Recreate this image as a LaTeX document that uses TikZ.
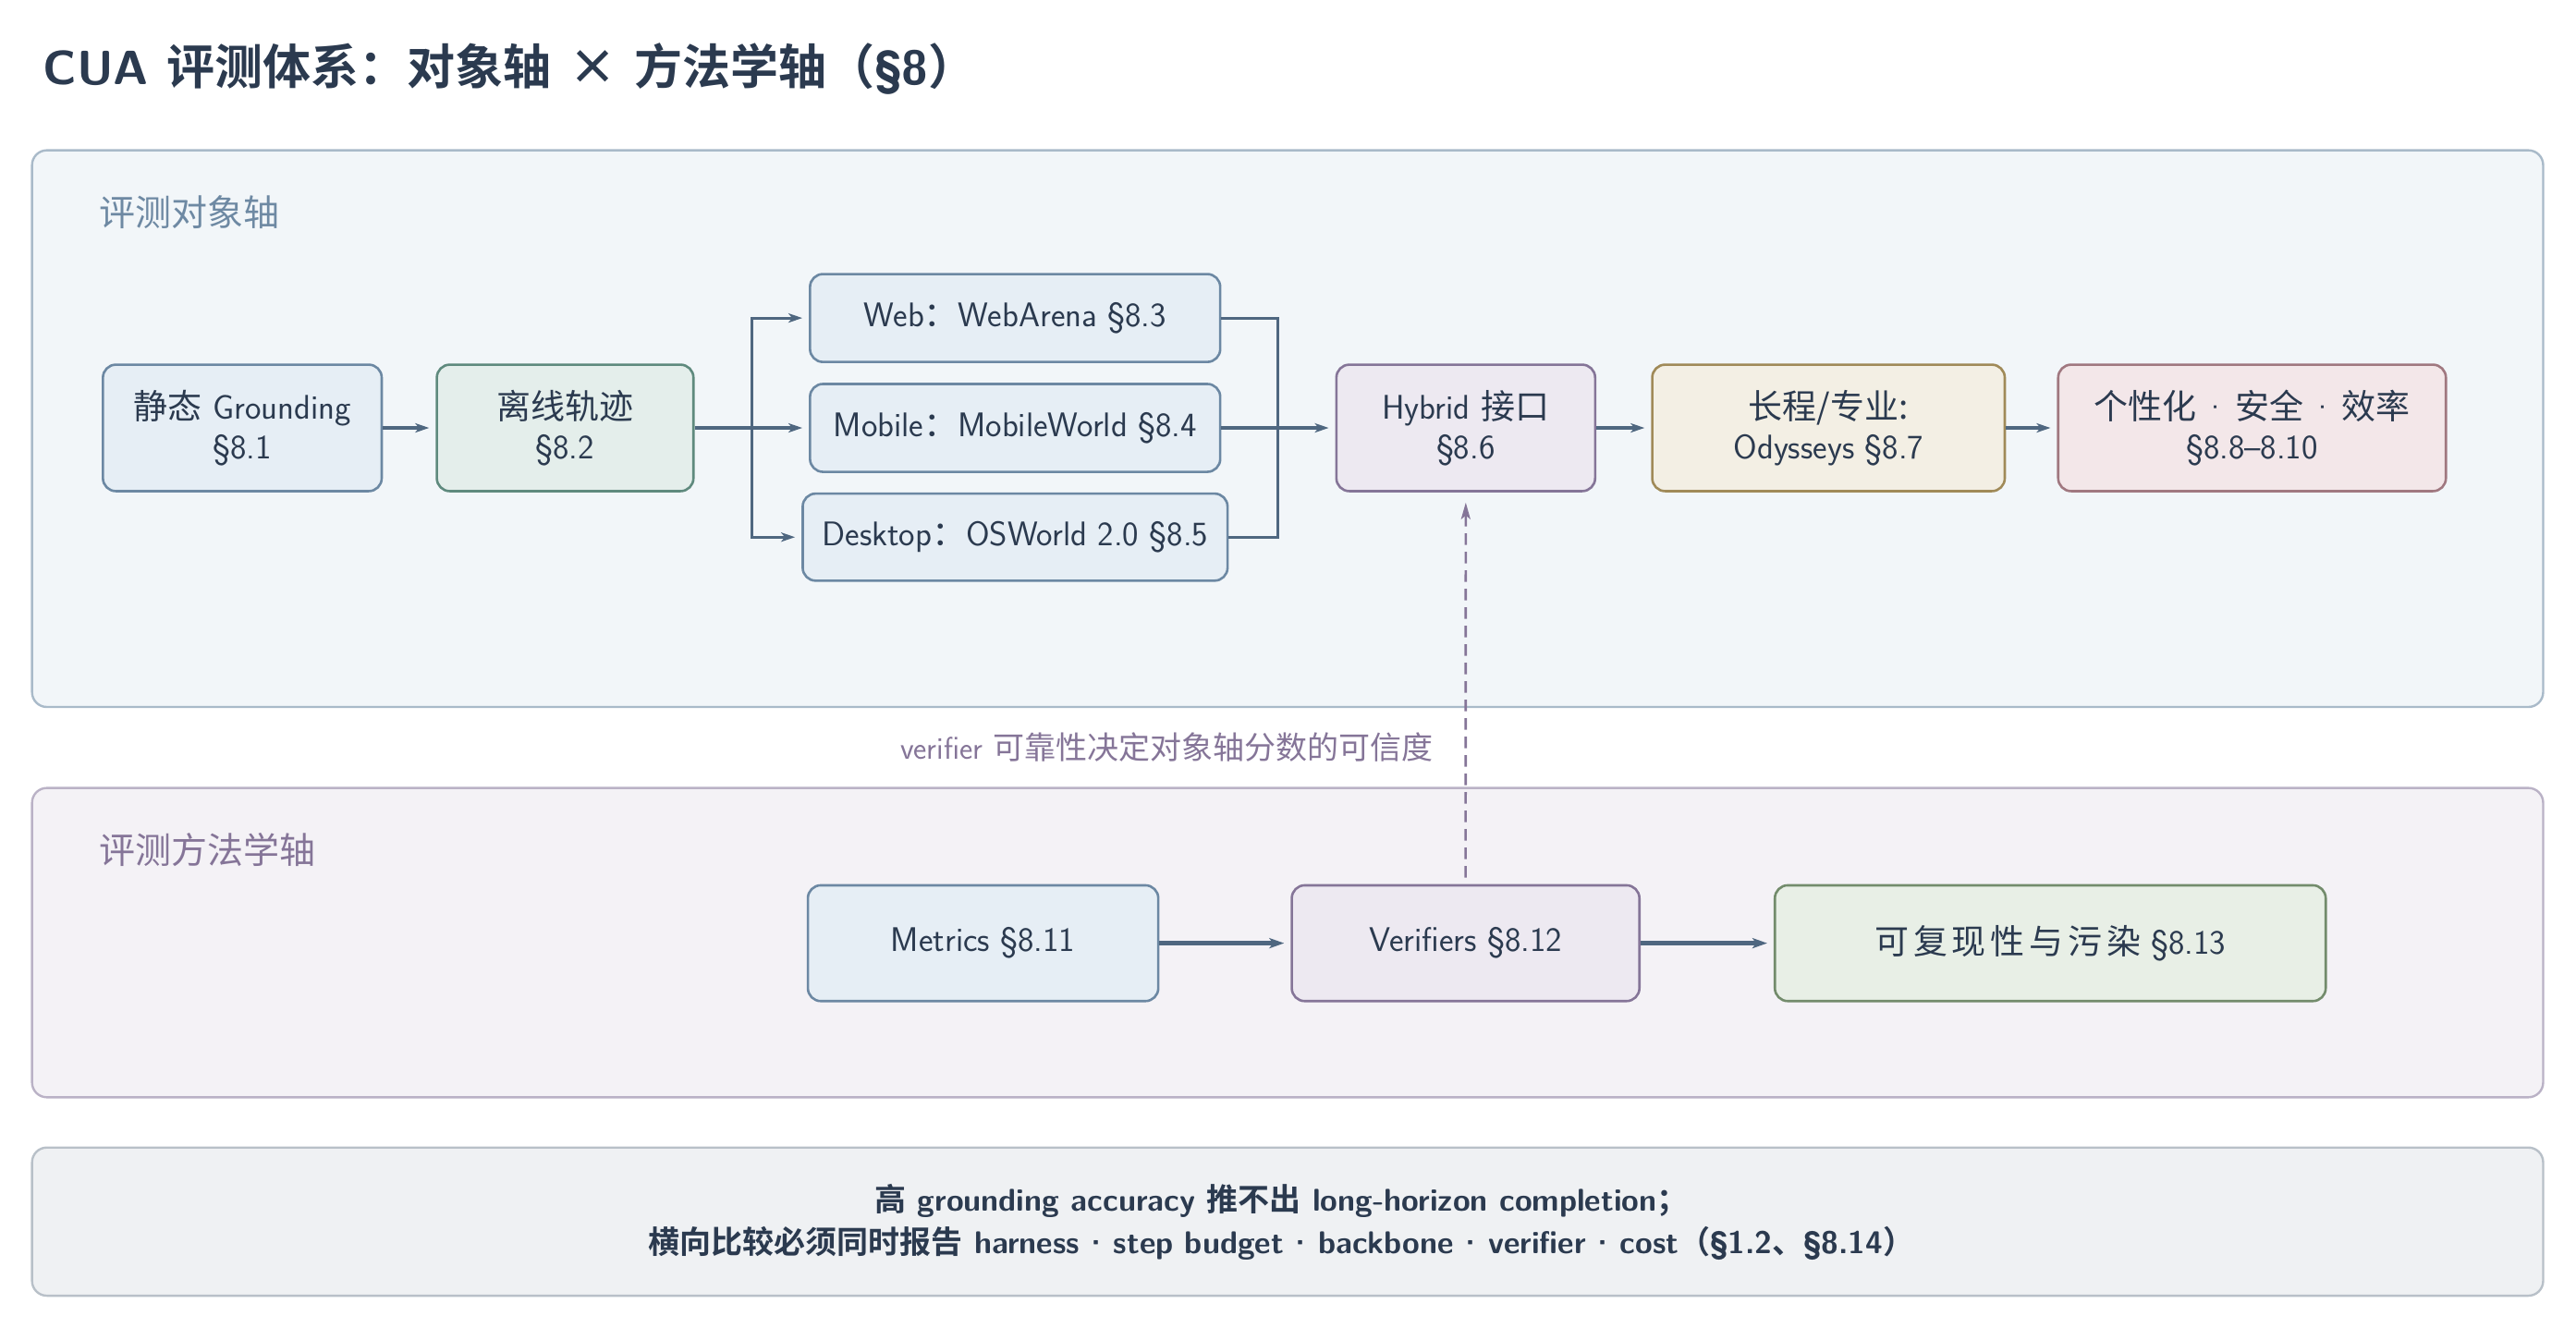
\documentclass[tikz,border=0pt]{standalone}
\usepackage{fontspec}
\usetikzlibrary{arrows.meta,calc}
\renewcommand{\familydefault}{\sfdefault}
\newfontfamily\cjk{Noto Sans CJK SC}[BoldFont={Noto Sans CJK SC Bold}]
\newcommand\zh[1]{{\cjk #1}}
\newcommand\dotsep{\hspace{2pt}·\hspace{2pt}}
\newcommand\boxdot{\hspace{3.5pt}·\hspace{3.5pt}}
\def\pxu{0.8887pt}
\definecolor{ink}{HTML}{2B3A4F}
\definecolor{pAf}{HTML}{F2F6F9}\definecolor{pAd}{HTML}{A9BAC9}\definecolor{pAt}{HTML}{6E89A3}
\definecolor{pBf}{HTML}{F4F2F6}\definecolor{pBd}{HTML}{BAB2C6}\definecolor{pBt}{HTML}{857598}
\definecolor{pCf}{HTML}{EFF1F3}\definecolor{pCd}{HTML}{B8C0C8}
\definecolor{bluef}{HTML}{E6EEF5}\definecolor{blued}{HTML}{6C88A3}
\definecolor{tealf}{HTML}{E4EEEB}\definecolor{teald}{HTML}{5F8A7E}
\definecolor{purf}{HTML}{EDE9F1}\definecolor{purd}{HTML}{857598}
\definecolor{goldf}{HTML}{F3EFE4}\definecolor{goldd}{HTML}{A08A58}
\definecolor{rosef}{HTML}{F3E7E9}\definecolor{rosed}{HTML}{A07880}
\definecolor{grnf}{HTML}{E8EFE6}\definecolor{grnd}{HTML}{738C6C}
\definecolor{arr}{HTML}{4F6780}
\tikzset{
  panel/.style={rounded corners=8pt, line width=1.2pt},
  box/.style={draw, rounded corners=7pt, line width=1.3pt, align=center, inner sep=0pt, text=ink,
    font=\fontsize{18.5}{21.7}\selectfont},
  bluebox/.style={box, draw=blued, fill=bluef},
  tealbox/.style={box, draw=teald, fill=tealf},
  purbox/.style={box, draw=purd, fill=purf},
  goldbox/.style={box, draw=goldd, fill=goldf},
  rosebox/.style={box, draw=rosed, fill=rosef},
  grnbox/.style={box, draw=grnd, fill=grnf},
  conn/.style={draw=arr, line width=1.6pt},
  arrow/.style={conn, -{Stealth[length=7.5pt,width=5pt,inset=2pt]}, shorten >=3.5pt},
  thickarrow/.style={draw=arr, line width=2.4pt, -{Stealth[length=8pt,width=5.5pt,inset=2pt]}, shorten >=3.5pt},
  dasharrow/.style={draw=purd, line width=1.3pt, dash pattern=on 6.3pt off 3.7pt,
    -{Stealth[length=9pt,width=5pt,inset=2pt]}, shorten >=5.5pt, shorten <=3.5pt},
  panellabel/.style={anchor=west, inner sep=0pt, font=\fontsize{19.5}{23}\selectfont}
}
\begin{document}
\begin{tikzpicture}[x=0.8887pt,y=-0.8887pt]
\useasboundingbox (0,0) rectangle (1568,808);
% title
\node[anchor=west, inner sep=0pt, text=ink, font=\fontsize{26}{30}\selectfont\bfseries] (title) at (26,42)
  {CUA \zh{评测体系：对象轴} \zh{×} \zh{方法学轴（}§8\zh{）}};
% panels
\draw[panel, draw=pAd, fill=pAf] (19.5,91.5) rectangle (1548,430.4);
\draw[panel, draw=pBd, fill=pBf] (19.5,479.7) rectangle (1548,668);
\draw[panel, draw=pCd, fill=pCf] (19.5,698.6) rectangle (1548,788.8);
\node[panellabel, text=pAt] (lab1) at (60.4,129.4) {\zh{评测对象轴}};
\node[panellabel, text=pBt] (lab2) at (60.4,517.6) {\zh{评测方法学轴}};
% top row
\node[bluebox, minimum width=169.7*\pxu, minimum height=77*\pxu] (g) at (147.5,260.5) {\zh{静态} Grounding\\§8.1};
\node[tealbox, minimum width=156.2*\pxu, minimum height=77*\pxu] (off) at (344,260.5) {\zh{离线轨迹}\\§8.2};
\node[bluebox, minimum width=249.7*\pxu, minimum height=53.5*\pxu] (web) at (617.9,193.6) {Web\zh{：}WebArena §8.3};
\node[bluebox, minimum width=249.7*\pxu, minimum height=53.5*\pxu] (mob) at (617.9,260.5) {Mobile\zh{：}MobileWorld §8.4};
\node[bluebox, minimum width=258.6*\pxu, minimum height=53*\pxu] (desk) at (617.9,327) {Desktop\zh{：}OSWorld 2.0 §8.5};
\node[purbox, minimum width=157.5*\pxu, minimum height=77*\pxu] (hyb) at (892.2,260.5) {Hybrid \zh{接口}\\§8.6};
\node[goldbox, minimum width=214.6*\pxu, minimum height=77*\pxu] (long) at (1113,260.5) {\zh{长程/专业:}\\Odysseys §8.7};
\node[rosebox, minimum width=236*\pxu, minimum height=77*\pxu] (pers) at (1370.8,260.5) {\zh{个性化}\boxdot\zh{安全}\boxdot\zh{效率}\\§8.8--8.10};
% bottom row
\node[bluebox, minimum width=213.3*\pxu, minimum height=70.5*\pxu] (met) at (598.4,574.2) {Metrics §8.11};
\node[purbox, minimum width=211.6*\pxu, minimum height=70.5*\pxu] (ver) at (892.1,574.2) {Verifiers §8.12};
\node[grnbox, minimum width=335.3*\pxu, minimum height=70.5*\pxu] (rep) at (1248,574.2)
  {\zh{可\hspace{2.4pt}复\hspace{2.4pt}现\hspace{2.4pt}性\hspace{2.4pt}与\hspace{2.4pt}污\hspace{2.4pt}染} §8.13};
% connectors
\coordinate (bl) at (457.7,260.5);
\coordinate (br) at (777.9,260.5);
\draw[arrow] (g.east) -- (off.west);
\draw[arrow] (off.east) -- (mob.west);
\draw[arrow] (bl) |- (web.west);
\draw[arrow] (bl) |- (desk.west);
\draw[conn] (web.east) -| (br);
\draw[conn] (desk.east) -| (br);
\draw[arrow] (mob.east) -- (hyb.west);
\draw[arrow] (hyb.east) -- (long.west);
\draw[arrow] (long.east) -- (pers.west);
\draw[thickarrow] (met.east) -- (ver.west);
\draw[thickarrow] (ver.east) -- (rep.west);
\draw[dasharrow] (ver.north) -- (hyb.south);
\node[anchor=east, inner sep=0pt, text=pBt, font=\fontsize{17}{20}\selectfont] (vlab) at (872.4,455)
  {verifier \zh{可靠性决定对象轴分数的可信度}};
% note
\node[align=center, inner sep=0pt, text=ink, font=\fontsize{17}{23}\selectfont\bfseries] (note) at (780,744)
  {\zh{高} grounding accuracy \zh{推不出} long-horizon completion\zh{；}\\
   \zh{横向比较必须同时报告} harness\dotsep step budget\dotsep backbone\dotsep verifier\dotsep cost\zh{（}§1.2\zh{、}§8.14\zh{）}};
\end{tikzpicture}
\end{document}
